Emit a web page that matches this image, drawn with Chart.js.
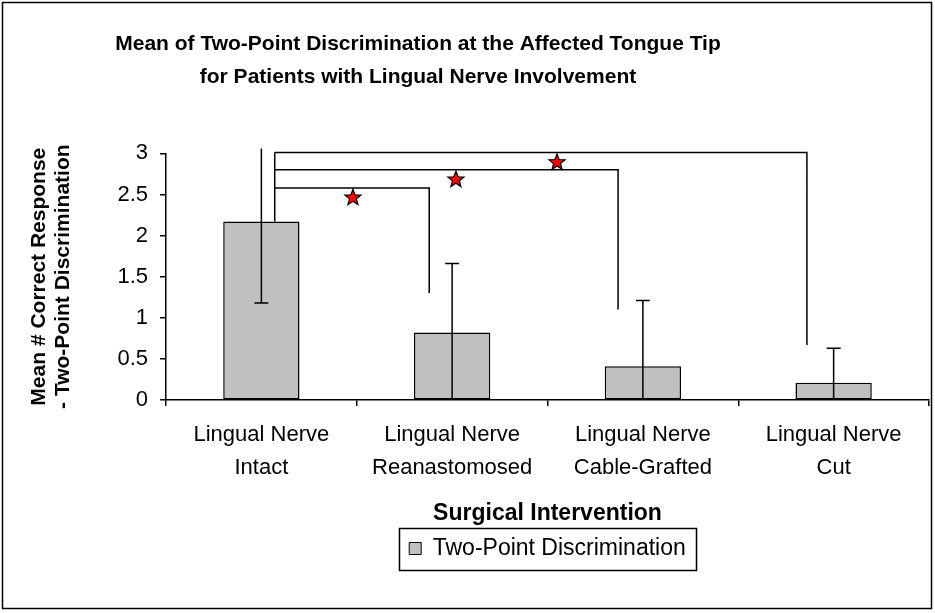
<!DOCTYPE html>
<html>
<head>
<meta charset="utf-8">
<script src="https://cdn.jsdelivr.net/npm/chart.js@4.4.1/dist/chart.umd.min.js"></script>
<style>
  html, body { margin: 0; padding: 0; background: #fff; }
  #wrap { width: 935px; height: 613px; }
</style>
</head>
<body>
<div id="wrap"><canvas id="c" width="935" height="613"></canvas></div>
<script>
// ---- data ----
const titleLines = ['Mean of Two-Point Discrimination at the Affected Tongue Tip', 'for Patients with Lingual Nerve Involvement'];
const categories = [['Lingual Nerve', 'Intact'], ['Lingual Nerve', 'Reanastomosed'], ['Lingual Nerve', 'Cable-Grafted'], ['Lingual Nerve', 'Cut']];
const seriesName = 'Two-Point Discrimination';
const means = [2.17, 0.82, 0.41, 0.21];
const errors = [0.99, 0.84, 0.80, 0.42];
const yTicks = [0, 0.5, 1, 1.5, 2, 2.5, 3];
const yTitle = ['Mean # Correct Response', '- Two-Point Discrimination'];
const xTitle = 'Surgical Intervention';
// significance brackets (category-index units on x, data units on y)
const bracketStartX = 0.07;
const bracketStartY = 2.17;
const bracketLevels = [2.58, 2.80, 3.01];
const bracketEndX = [0.88, 1.87, 2.86];
const bracketEndY = [1.30, 1.10, 0.67];
const starX = [0.48, 1.02, 1.55];
const starY = [2.46, 2.68, 2.89];
const errorClipTop = 3.06;

const FONT = "'Liberation Sans', Arial, sans-serif";
const TITLE_CENTER_X = 418;

function starPath(ctx, cx, cy, ro, ri) {
  ctx.beginPath();
  for (let i = 0; i < 10; i++) {
    const r = i % 2 === 0 ? ro : ri;
    const a = -Math.PI / 2 + i * Math.PI / 5;
    const px = cx + r * Math.cos(a), py = cy + r * Math.sin(a);
    if (i === 0) ctx.moveTo(px, py); else ctx.lineTo(px, py);
  }
  ctx.closePath();
}

const annotations = {
  id: 'annotations',
  afterLayout(chart) {
    // centre the title block and legend like the reference
    const t = chart.titleBlock;
    if (t) {
      const w = t.right - t.left;
      t.left = TITLE_CENTER_X - w / 2;
      t.right = TITLE_CENTER_X + w / 2;
    }
    const lg = chart.legend;
    if (lg) {
      const ca = chart.chartArea;
      const shift = (ca.left + ca.right) / 2 - (lg.left + lg.right) / 2;
      lg.left += shift; lg.right += shift;
      (lg.legendHitBoxes || []).forEach(hb => { hb.left += shift; });
    }
  },
  afterDatasetsDraw(chart) {
    const ctx = chart.ctx, x = chart.scales.x, y = chart.scales.y;
    ctx.save();
    ctx.strokeStyle = '#000';
    ctx.lineWidth = 1.5;
    // error bars
    means.forEach((m, i) => {
      const px = x.getPixelForValue(i);
      const hiV = m + errors[i], loV = m - errors[i];
      const hi = y.getPixelForValue(Math.min(hiV, errorClipTop));
      const lo = y.getPixelForValue(Math.max(loV, 0));
      ctx.beginPath();
      ctx.moveTo(px, lo); ctx.lineTo(px, hi);
      if (hiV <= errorClipTop) { ctx.moveTo(px - 7, hi); ctx.lineTo(px + 7, hi); }
      if (loV > 0) { ctx.moveTo(px - 7, lo); ctx.lineTo(px + 7, lo); }
      ctx.stroke();
    });
    // brackets
    const sx = x.getPixelForValue(bracketStartX);
    ctx.beginPath();
    ctx.moveTo(sx, y.getPixelForValue(bracketStartY));
    ctx.lineTo(sx, y.getPixelForValue(Math.max(...bracketLevels)));
    bracketLevels.forEach((lv, i) => {
      const py = y.getPixelForValue(lv);
      const ex = x.getPixelForValue(bracketEndX[i]);
      ctx.moveTo(sx, py); ctx.lineTo(ex, py); ctx.lineTo(ex, y.getPixelForValue(bracketEndY[i]));
    });
    ctx.stroke();
    // stars
    ctx.fillStyle = '#FF0000';
    ctx.lineWidth = 1.2;
    starX.forEach((sv, i) => {
      starPath(ctx, x.getPixelForValue(sv), y.getPixelForValue(starY[i]), 8.5, 3.6);
      ctx.fill(); ctx.stroke();
    });
    ctx.restore();
  },
  afterDraw(chart) {
    const ctx = chart.ctx;
    ctx.save();
    ctx.strokeStyle = '#000';
    ctx.lineWidth = 1.5;
    // legend frame
    const hb = chart.legend.legendHitBoxes[0];
    if (hb) {
      const cy = hb.top + hb.height / 2;
      ctx.strokeRect(Math.round(hb.left - 10) + 0.5, Math.round(cy - 21) + 0.5, Math.round(hb.width + 20), 42);
    }
    // outer frame
    ctx.strokeRect(2.5, 2.5, 929, 606);
    ctx.restore();
  }
};

new Chart(document.getElementById('c'), {
  type: 'bar',
  data: {
    labels: categories,
    datasets: [{
      label: seriesName,
      data: means,
      backgroundColor: '#C0C0C0',
      borderColor: '#000',
      borderWidth: 1.5,
      borderSkipped: false,
      barPercentage: 0.4,
      categoryPercentage: 1.0
    }]
  },
  options: {
    responsive: false,
    animation: false,
    events: [],
    layout: { padding: { left: 4, right: 6, top: 0, bottom: 43 } },
    plugins: {
      title: {
        display: true,
        text: titleLines,
        color: '#000',
        font: { family: FONT, size: 21, weight: 'bold', lineHeight: 1.58 },
        padding: { top: 27.5, bottom: 59.5 }
      },
      legend: {
        display: true,
        position: 'bottom',
        labels: {
          color: '#000',
          font: { family: FONT, size: 23 },
          boxWidth: 12, boxHeight: 12,
          padding: 10,
          generateLabels: (chart) => [{
            text: seriesName, fillStyle: '#C0C0C0', strokeStyle: '#000', lineWidth: 1, datasetIndex: 0
          }]
        }
      },
      tooltip: { enabled: false }
    },
    scales: {
      x: {
        offset: true,
        grid: { offset: true, drawOnChartArea: false, drawTicks: true, tickLength: 6, color: '#000', lineWidth: 1.5 },
        border: { display: true, color: '#000', width: 1.5 },
        ticks: { color: '#000', font: { family: FONT, size: 22, lineHeight: 1.5 }, padding: 12.5, maxRotation: 0, autoSkip: false },
        title: { display: true, text: xTitle, color: '#000', font: { family: FONT, size: 23, weight: 'bold' }, padding: { top: 0, bottom: 0 } },
        afterFit: (s) => { s.height = 127; }
      },
      y: {
        min: 0, max: 3,
        afterBuildTicks: (axis) => { axis.ticks = yTicks.map(v => ({ value: v })); },
        grid: { drawOnChartArea: false, drawTicks: true, tickLength: 6, color: '#000', lineWidth: 1.5 },
        border: { display: true, color: '#000', width: 1.5 },
        ticks: { color: '#000', font: { family: FONT, size: 22 }, padding: 12, callback: (v) => String(v) },
        title: { display: true, text: yTitle, color: '#000', font: { family: FONT, size: 21, weight: 'bold', lineHeight: 1.15 }, padding: { top: 23, bottom: 0 } },
        afterFit: (s) => { s.width = 162; }
      }
    }
  },
  plugins: [annotations]
});
</script>
</body>
</html>
